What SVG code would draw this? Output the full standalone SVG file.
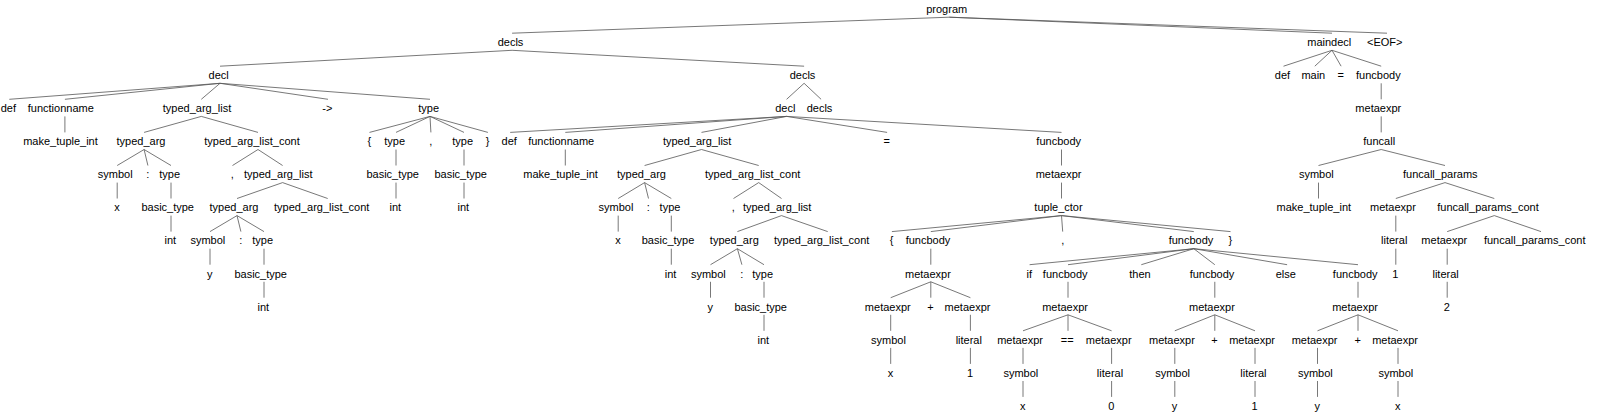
<svg xmlns="http://www.w3.org/2000/svg" width="1598" height="414" viewBox="0 0 1598 414">
<style>
text{font-family:"Liberation Sans",Arial,Helvetica,sans-serif;font-size:11px;fill:#000;text-anchor:middle}
#edges line{stroke:#555;stroke-width:0.8;fill:none}
</style>
<rect width="1598" height="414" fill="#fff"/>
<g id="edges">
<line x1="949.3" y1="17.2" x2="512.1" y2="33.2"/><line x1="949.3" y1="17.2" x2="1332" y2="33.2"/><line x1="949.3" y1="17.2" x2="1387" y2="33.2"/>
<line x1="512.1" y1="50.3" x2="220" y2="66.2"/><line x1="512.1" y1="50.3" x2="804.1" y2="66.2"/>
<line x1="1332" y1="50.3" x2="1283.5" y2="66.2"/><line x1="1332" y1="50.3" x2="1314.8" y2="66.2"/><line x1="1332" y1="50.3" x2="1341.1" y2="66.2"/><line x1="1332" y1="50.3" x2="1381.2" y2="66.2"/>
<line x1="220" y1="83.3" x2="9.3" y2="99.3"/><line x1="220" y1="83.3" x2="64.9" y2="99.3"/><line x1="220" y1="83.3" x2="201.3" y2="99.3"/><line x1="220" y1="83.3" x2="328" y2="99.3"/><line x1="220" y1="83.3" x2="430" y2="99.3"/>
<line x1="804.1" y1="83.3" x2="786.6" y2="99.3"/><line x1="804.1" y1="83.3" x2="821.1" y2="99.3"/><line x1="1381.2" y1="83.3" x2="1381.2" y2="99.3"/>
<line x1="64.9" y1="116.4" x2="64.9" y2="132.4"/><line x1="201.3" y1="116.4" x2="144.1" y2="132.4"/><line x1="201.3" y1="116.4" x2="258" y2="132.4"/>
<line x1="430" y1="116.4" x2="369.5" y2="132.4"/><line x1="430" y1="116.4" x2="396" y2="132.4"/><line x1="430" y1="116.4" x2="430.9" y2="132.4"/><line x1="430" y1="116.4" x2="464" y2="132.4"/><line x1="430" y1="116.4" x2="487.9" y2="132.4"/>
<line x1="786.6" y1="116.4" x2="510.2" y2="132.4"/><line x1="786.6" y1="116.4" x2="565.3" y2="132.4"/><line x1="786.6" y1="116.4" x2="701.5" y2="132.4"/><line x1="786.6" y1="116.4" x2="887.1" y2="132.4"/><line x1="786.6" y1="116.4" x2="1061.5" y2="132.4"/>
<line x1="1381.2" y1="116.4" x2="1381.2" y2="132.4"/>
<line x1="144.1" y1="149.5" x2="117.2" y2="165.5"/><line x1="144.1" y1="149.5" x2="147.9" y2="165.5"/><line x1="144.1" y1="149.5" x2="171" y2="165.5"/>
<line x1="258" y1="149.5" x2="232.5" y2="165.5"/><line x1="258" y1="149.5" x2="282.6" y2="165.5"/>
<line x1="396" y1="149.5" x2="396" y2="165.5"/><line x1="464" y1="149.5" x2="464" y2="165.5"/><line x1="565.3" y1="149.5" x2="565.3" y2="165.5"/>
<line x1="701.5" y1="149.5" x2="644.6" y2="165.5"/><line x1="701.5" y1="149.5" x2="758.7" y2="165.5"/><line x1="1061.5" y1="149.5" x2="1061.5" y2="165.5"/>
<line x1="1381.2" y1="149.5" x2="1318.5" y2="165.5"/><line x1="1381.2" y1="149.5" x2="1445" y2="165.5"/>
<line x1="117.2" y1="182.6" x2="117.2" y2="198.5"/><line x1="171" y1="182.6" x2="171" y2="198.5"/>
<line x1="282.6" y1="182.6" x2="237" y2="198.5"/><line x1="282.6" y1="182.6" x2="327.7" y2="198.5"/>
<line x1="396" y1="182.6" x2="396" y2="198.5"/><line x1="464" y1="182.6" x2="464" y2="198.5"/>
<line x1="644.6" y1="182.6" x2="618.2" y2="198.5"/><line x1="644.6" y1="182.6" x2="648.5" y2="198.5"/><line x1="644.6" y1="182.6" x2="671.3" y2="198.5"/>
<line x1="758.7" y1="182.6" x2="733.5" y2="198.5"/><line x1="758.7" y1="182.6" x2="781.5" y2="198.5"/>
<line x1="1061.5" y1="182.6" x2="1061.5" y2="198.5"/><line x1="1318.5" y1="182.6" x2="1318.5" y2="198.5"/>
<line x1="1445" y1="182.6" x2="1395.8" y2="198.5"/><line x1="1445" y1="182.6" x2="1494.3" y2="198.5"/>
<line x1="171" y1="215.6" x2="171" y2="231.6"/>
<line x1="237" y1="215.6" x2="210" y2="231.6"/><line x1="237" y1="215.6" x2="240.9" y2="231.6"/><line x1="237" y1="215.6" x2="264" y2="231.6"/>
<line x1="618.2" y1="215.6" x2="618.2" y2="231.6"/><line x1="671.3" y1="215.6" x2="671.3" y2="231.6"/>
<line x1="781.5" y1="215.6" x2="737.4" y2="231.6"/><line x1="781.5" y1="215.6" x2="827.7" y2="231.6"/>
<line x1="1061.5" y1="215.6" x2="891.9" y2="231.6"/><line x1="1061.5" y1="215.6" x2="930.8" y2="231.6"/><line x1="1061.5" y1="215.6" x2="1062.7" y2="231.6"/><line x1="1061.5" y1="215.6" x2="1193.8" y2="231.6"/><line x1="1061.5" y1="215.6" x2="1230.5" y2="231.6"/>
<line x1="1395.8" y1="215.6" x2="1395.8" y2="231.6"/>
<line x1="1494.3" y1="215.6" x2="1447.2" y2="231.6"/><line x1="1494.3" y1="215.6" x2="1541" y2="231.6"/>
<line x1="210" y1="248.7" x2="210" y2="264.7"/><line x1="264" y1="248.7" x2="264" y2="264.7"/><line x1="671.3" y1="248.7" x2="671.3" y2="264.7"/>
<line x1="737.4" y1="248.7" x2="710.5" y2="264.7"/><line x1="737.4" y1="248.7" x2="741.9" y2="264.7"/><line x1="737.4" y1="248.7" x2="764" y2="264.7"/>
<line x1="930.8" y1="248.7" x2="930.8" y2="264.7"/>
<line x1="1193.8" y1="248.7" x2="1029.6" y2="264.7"/><line x1="1193.8" y1="248.7" x2="1068" y2="264.7"/><line x1="1193.8" y1="248.7" x2="1141.3" y2="264.7"/><line x1="1193.8" y1="248.7" x2="1214.8" y2="264.7"/><line x1="1193.8" y1="248.7" x2="1287.1" y2="264.7"/><line x1="1193.8" y1="248.7" x2="1358" y2="264.7"/>
<line x1="1395.8" y1="248.7" x2="1395.8" y2="264.7"/><line x1="1447.2" y1="248.7" x2="1447.2" y2="264.7"/>
<line x1="264" y1="281.8" x2="264" y2="297.7"/><line x1="710.5" y1="281.8" x2="710.5" y2="297.7"/><line x1="764" y1="281.8" x2="764" y2="297.7"/>
<line x1="930.8" y1="281.8" x2="890.7" y2="297.7"/><line x1="930.8" y1="281.8" x2="930.8" y2="297.7"/><line x1="930.8" y1="281.8" x2="970.4" y2="297.7"/>
<line x1="1068" y1="281.8" x2="1068" y2="297.7"/><line x1="1214.8" y1="281.8" x2="1214.8" y2="297.7"/><line x1="1358" y1="281.8" x2="1358" y2="297.7"/><line x1="1447.2" y1="281.8" x2="1447.2" y2="297.7"/>
<line x1="764" y1="314.8" x2="764" y2="330.8"/><line x1="890.7" y1="314.8" x2="890.7" y2="330.8"/><line x1="970.4" y1="314.8" x2="970.4" y2="330.8"/>
<line x1="1068" y1="314.8" x2="1023" y2="330.8"/><line x1="1068" y1="314.8" x2="1068" y2="330.8"/><line x1="1068" y1="314.8" x2="1111.6" y2="330.8"/>
<line x1="1214.8" y1="314.8" x2="1174.8" y2="330.8"/><line x1="1214.8" y1="314.8" x2="1214.8" y2="330.8"/><line x1="1214.8" y1="314.8" x2="1255" y2="330.8"/>
<line x1="1358" y1="314.8" x2="1317.5" y2="330.8"/><line x1="1358" y1="314.8" x2="1358" y2="330.8"/><line x1="1358" y1="314.8" x2="1398" y2="330.8"/>
<line x1="890.7" y1="347.9" x2="890.7" y2="363.9"/><line x1="970.4" y1="347.9" x2="970.4" y2="363.9"/><line x1="1023" y1="347.9" x2="1023" y2="363.9"/><line x1="1111.6" y1="347.9" x2="1111.6" y2="363.9"/>
<line x1="1174.8" y1="347.9" x2="1174.8" y2="363.9"/><line x1="1255" y1="347.9" x2="1255" y2="363.9"/><line x1="1317.5" y1="347.9" x2="1317.5" y2="363.9"/><line x1="1398" y1="347.9" x2="1398" y2="363.9"/>
<line x1="1023" y1="381" x2="1023" y2="396.9"/><line x1="1111.6" y1="381" x2="1111.6" y2="396.9"/><line x1="1174.8" y1="381" x2="1174.8" y2="396.9"/><line x1="1255" y1="381" x2="1255" y2="396.9"/><line x1="1317.5" y1="381" x2="1317.5" y2="396.9"/><line x1="1398" y1="381" x2="1398" y2="396.9"/>
</g>
<g id="program"><text x="946.7" y="12.9">program</text></g>
<g id="decls_1"><text x="510.5" y="46">decls</text></g>
<g id="maindecl"><text x="1329.3" y="46">maindecl</text></g>
<g id="eof"><text x="1384.7" y="46">&lt;EOF&gt;</text></g>
<g id="decl_L"><text x="218.7" y="79">decl</text></g>
<g id="decls_2"><text x="802.5" y="79">decls</text></g>
<g id="def_M"><text x="1282.5" y="79">def</text></g>
<g id="main_M"><text x="1313.3" y="79">main</text></g>
<g id="eq_M"><text x="1340.7" y="79">=</text></g>
<g id="funcbody_M"><text x="1378.4" y="79">funcbody</text></g>
<g id="def_L"><text x="8.3" y="112.1">def</text></g>
<g id="functionname_L"><text x="60.8" y="112.1">functionname</text></g>
<g id="tal_L1"><text x="197" y="112.1">typed_arg_list</text></g>
<g id="arrow_L"><text x="327.4" y="112.1">-&gt;</text></g>
<g id="type_L"><text x="428.7" y="112.1">type</text></g>
<g id="decl_R"><text x="785.3" y="112.1">decl</text></g>
<g id="decls_3"><text x="819.5" y="112.1">decls</text></g>
<g id="metaexpr_M"><text x="1378.3" y="112.1">metaexpr</text></g>
<g id="make_L"><text x="60.5" y="145.2">make_tuple_int</text></g>
<g id="typed_arg_L1"><text x="141" y="145.2">typed_arg</text></g>
<g id="talc_L1"><text x="252" y="145.2">typed_arg_list_cont</text></g>
<g id="lbrace_L"><text x="369.3" y="145.2">{</text></g>
<g id="type_La"><text x="394.7" y="145.2">type</text></g>
<g id="comma_Lt"><text x="430.7" y="145.2">,</text></g>
<g id="type_Lb"><text x="462.7" y="145.2">type</text></g>
<g id="rbrace_L"><text x="487.7" y="145.2">}</text></g>
<g id="def_R"><text x="509.2" y="145.2">def</text></g>
<g id="functionname_R"><text x="561.2" y="145.2">functionname</text></g>
<g id="tal_R1"><text x="697.2" y="145.2">typed_arg_list</text></g>
<g id="eq_R"><text x="886.7" y="145.2">=</text></g>
<g id="funcbody_R"><text x="1058.7" y="145.2">funcbody</text></g>
<g id="funcall_M"><text x="1379.2" y="145.2">funcall</text></g>
<g id="symbol_L1"><text x="115.2" y="178.3">symbol</text></g>
<g id="colon_L1"><text x="147.7" y="178.3">:</text></g>
<g id="type_L1"><text x="169.7" y="178.3">type</text></g>
<g id="comma_L1"><text x="232.3" y="178.3">,</text></g>
<g id="tal_L2"><text x="278.3" y="178.3">typed_arg_list</text></g>
<g id="basic_La"><text x="392.7" y="178.3">basic_type</text></g>
<g id="basic_Lb"><text x="460.7" y="178.3">basic_type</text></g>
<g id="make_R"><text x="560.6" y="178.3">make_tuple_int</text></g>
<g id="typed_arg_R1"><text x="641.5" y="178.3">typed_arg</text></g>
<g id="talc_R1"><text x="752.7" y="178.3">typed_arg_list_cont</text></g>
<g id="metaexpr_R"><text x="1058.6" y="178.3">metaexpr</text></g>
<g id="symbol_M"><text x="1316.3" y="178.3">symbol</text></g>
<g id="funcall_params"><text x="1440.3" y="178.3">funcall_params</text></g>
<g id="x_L1"><text x="116.9" y="211.3">x</text></g>
<g id="basic_L1"><text x="167.7" y="211.3">basic_type</text></g>
<g id="typed_arg_L2"><text x="234" y="211.3">typed_arg</text></g>
<g id="talc_L2"><text x="321.7" y="211.3">typed_arg_list_cont</text></g>
<g id="int_La"><text x="395.3" y="211.3">int</text></g>
<g id="int_Lb"><text x="463.3" y="211.3">int</text></g>
<g id="symbol_R1"><text x="616" y="211.3">symbol</text></g>
<g id="colon_R1"><text x="648.3" y="211.3">:</text></g>
<g id="type_R1"><text x="670" y="211.3">type</text></g>
<g id="comma_R1"><text x="733.3" y="211.3">,</text></g>
<g id="tal_R2"><text x="777.2" y="211.3">typed_arg_list</text></g>
<g id="tuple_ctor"><text x="1058.5" y="211.3">tuple_ctor</text></g>
<g id="make_M"><text x="1313.8" y="211.3">make_tuple_int</text></g>
<g id="metaexpr_P1"><text x="1392.9" y="211.3">metaexpr</text></g>
<g id="fpc1"><text x="1488" y="211.3">funcall_params_cont</text></g>
<g id="int_L1"><text x="170.3" y="244.4">int</text></g>
<g id="symbol_L2"><text x="207.8" y="244.4">symbol</text></g>
<g id="colon_L2"><text x="240.7" y="244.4">:</text></g>
<g id="type_L2"><text x="262.7" y="244.4">type</text></g>
<g id="x_R1"><text x="617.9" y="244.4">x</text></g>
<g id="basic_R1"><text x="668" y="244.4">basic_type</text></g>
<g id="typed_arg_R2"><text x="734.3" y="244.4">typed_arg</text></g>
<g id="talc_R2"><text x="821.7" y="244.4">typed_arg_list_cont</text></g>
<g id="lbrace_T"><text x="891.7" y="244.4">{</text></g>
<g id="funcbody_T1"><text x="928" y="244.4">funcbody</text></g>
<g id="comma_T"><text x="1062.7" y="244.4">,</text></g>
<g id="funcbody_T2"><text x="1191" y="244.4">funcbody</text></g>
<g id="rbrace_T"><text x="1230.3" y="244.4">}</text></g>
<g id="literal_P1"><text x="1394.2" y="244.4">literal</text></g>
<g id="metaexpr_P2"><text x="1444.3" y="244.4">metaexpr</text></g>
<g id="fpc2"><text x="1534.7" y="244.4">funcall_params_cont</text></g>
<g id="y_L2"><text x="209.7" y="277.5">y</text></g>
<g id="basic_L2"><text x="260.7" y="277.5">basic_type</text></g>
<g id="int_R1"><text x="670.6" y="277.5">int</text></g>
<g id="symbol_R2"><text x="708.3" y="277.5">symbol</text></g>
<g id="colon_R2"><text x="741.7" y="277.5">:</text></g>
<g id="type_R2"><text x="762.7" y="277.5">type</text></g>
<g id="metaexpr_T1"><text x="927.9" y="277.5">metaexpr</text></g>
<g id="if_C"><text x="1029.3" y="277.5">if</text></g>
<g id="funcbody_C"><text x="1065.2" y="277.5">funcbody</text></g>
<g id="then_C"><text x="1140" y="277.5">then</text></g>
<g id="funcbody_Th"><text x="1212" y="277.5">funcbody</text></g>
<g id="else_C"><text x="1285.8" y="277.5">else</text></g>
<g id="funcbody_E"><text x="1355.2" y="277.5">funcbody</text></g>
<g id="one_P1"><text x="1395.4" y="277.5">1</text></g>
<g id="literal_P2"><text x="1445.6" y="277.5">literal</text></g>
<g id="int_L2"><text x="263.3" y="310.5">int</text></g>
<g id="y_R2"><text x="710.2" y="310.5">y</text></g>
<g id="basic_R2"><text x="760.7" y="310.5">basic_type</text></g>
<g id="metaexpr_a"><text x="887.8" y="310.5">metaexpr</text></g>
<g id="plus_a"><text x="930.4" y="310.5">+</text></g>
<g id="metaexpr_b"><text x="967.5" y="310.5">metaexpr</text></g>
<g id="metaexpr_C"><text x="1065.1" y="310.5">metaexpr</text></g>
<g id="metaexpr_Th"><text x="1211.9" y="310.5">metaexpr</text></g>
<g id="metaexpr_E"><text x="1355.1" y="310.5">metaexpr</text></g>
<g id="two_P2"><text x="1446.8" y="310.5">2</text></g>
<g id="int_R2"><text x="763.3" y="343.6">int</text></g>
<g id="symbol_a"><text x="888.5" y="343.6">symbol</text></g>
<g id="literal_b"><text x="968.8" y="343.6">literal</text></g>
<g id="metaexpr_c1"><text x="1020.1" y="343.6">metaexpr</text></g>
<g id="eqeq_C"><text x="1067.2" y="343.6">==</text></g>
<g id="metaexpr_c2"><text x="1108.7" y="343.6">metaexpr</text></g>
<g id="metaexpr_t1"><text x="1171.9" y="343.6">metaexpr</text></g>
<g id="plus_t"><text x="1214.4" y="343.6">+</text></g>
<g id="metaexpr_t2"><text x="1252.1" y="343.6">metaexpr</text></g>
<g id="metaexpr_e1"><text x="1314.6" y="343.6">metaexpr</text></g>
<g id="plus_e"><text x="1357.6" y="343.6">+</text></g>
<g id="metaexpr_e2"><text x="1395.1" y="343.6">metaexpr</text></g>
<g id="x_a"><text x="890.4" y="376.7">x</text></g>
<g id="one_b"><text x="970" y="376.7">1</text></g>
<g id="symbol_c1"><text x="1020.8" y="376.7">symbol</text></g>
<g id="literal_c2"><text x="1110" y="376.7">literal</text></g>
<g id="symbol_t1"><text x="1172.6" y="376.7">symbol</text></g>
<g id="literal_t2"><text x="1253.4" y="376.7">literal</text></g>
<g id="symbol_e1"><text x="1315.3" y="376.7">symbol</text></g>
<g id="symbol_e2"><text x="1395.8" y="376.7">symbol</text></g>
<g id="x_c1"><text x="1022.7" y="409.7">x</text></g>
<g id="zero_c2"><text x="1111.2" y="409.7">0</text></g>
<g id="y_t1"><text x="1174.5" y="409.7">y</text></g>
<g id="one_t2"><text x="1254.6" y="409.7">1</text></g>
<g id="y_e1"><text x="1317.2" y="409.7">y</text></g>
<g id="x_e2"><text x="1397.7" y="409.7">x</text></g>
</svg>
